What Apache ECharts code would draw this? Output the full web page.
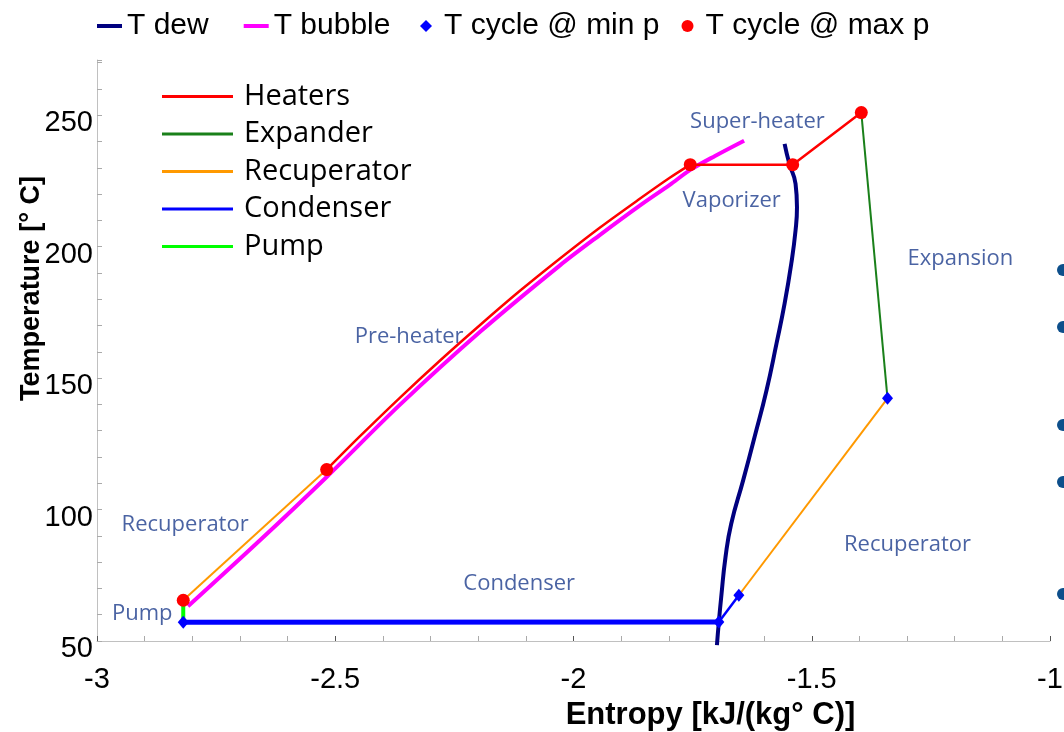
<!DOCTYPE html>
<html>

<head>
    <meta charset="utf-8">
    <title>T-s diagram</title>
    <script src="https://cdn.jsdelivr.net/npm/echarts@6.0.0/dist/echarts.min.js"></script>
    <style>
        html, body { margin: 0; padding: 0; background: #fff; }
    </style>
</head>

<body>
    <div id="main" style="width: 1064px;height: 732px;"></div>

    <script type="text/javascript">
        // saturation curves [entropy, temperature]
        var dewCurve = [
            [-1.699, 48.4], [-1.695, 57.2], [-1.690, 66.7], [-1.681, 81.9], [-1.669, 94.6],
            [-1.644, 111.1], [-1.620, 127.6], [-1.595, 145.3], [-1.574, 163.1], [-1.557, 178.3],
            [-1.543, 193.5], [-1.534, 206.2], [-1.531, 215.0], [-1.534, 223.9], [-1.547, 231.5],
            [-1.557, 239.1]
        ];
        var bubbleCurve = [
            [-2.809, 63.2], [-2.658, 88.3], [-2.518, 112.4], [-2.364, 139.9], [-2.196, 167.6],
            [-2.029, 192.8], [-1.945, 204.4], [-1.861, 215.6], [-1.798, 223.5], [-1.755, 229.2],
            [-1.703, 234.5], [-1.642, 240.3]
        ];

        // cycle state points
        var cycleMinP = [[-2.819, 57.1], [-1.695, 57.2], [-1.653, 67.4], [-1.341, 142.3]];
        var cycleMaxP = [[-2.819, 65.5], [-2.518, 115.2], [-1.755, 231.2], [-1.540, 231.2], [-1.396, 251.0]];

        // cycle segments
        var heatersPre = [
            [-2.518, 115.2], [-2.448, 127.9], [-2.364, 142.6], [-2.280, 156.7], [-2.196, 170.2],
            [-2.113, 183.1], [-2.029, 195.4], [-1.945, 207.2], [-1.861, 218.2], [-1.798, 226.2],
            [-1.755, 231.2]
        ];
        var heatersVap = [[-1.755, 231.2], [-1.540, 231.2], [-1.396, 251.0]];
        var expander = [[-1.396, 251.0], [-1.341, 142.3]];
        var recupHot = [[-2.819, 65.5], [-2.518, 115.2]];
        var recupCold = [[-1.341, 142.3], [-1.653, 67.4]];
        var condenserDesup = [[-1.653, 67.4], [-1.695, 57.2]];
        var condenserMain = [[-1.695, 57.2], [-2.819, 57.1]];
        var pump = [[-2.819, 57.1], [-2.819, 65.5]];

        // region labels
        var annoNames = ['Super-heater', 'Vaporizer', 'Expansion', 'Pre-heater', 'Recuperator', 'Condenser', 'Pump', 'Recuperator'];
        var annoS = [-1.614, -1.668, -1.188, -2.345, -2.815, -2.114, -2.905, -1.299];
        var annoT = [247.6, 217.6, 195.5, 165.9, 94.4, 71.9, 60.5, 86.8];

        var xTicks = { min: -3, max: -1, interval: 0.5 };
        var yTicks = { min: 50, max: 271, interval: 50 };

        var annoData = annoNames.map(function (n, i) {
            return { name: n, value: [annoS[i], annoT[i]] };
        });

        var myChart = echarts.init(document.getElementById('main'));

        function lineSeries(name, data, color, width, extra) {
            var s = {
                name: name,
                type: 'line',
                data: data,
                showSymbol: false,
                symbol: 'none',
                color: color,
                lineStyle: { color: color, width: width },
                animation: false
            };
            for (var k in extra) s[k] = extra[k];
            return s;
        }

        var arialFont = 'Liberation Sans, Arial, sans-serif';
        var topText = { fontSize: 30, fontFamily: arialFont, color: '#000' };
        var option = {
            backgroundColor: '#fff',
            animation: false,
            grid: { left: 97, right: 14, top: 60, bottom: 91, containLabel: false, outerBoundsMode: 'none' },
            legend: [{
                data: [{ name: 'T dew', icon: 'rect' }, { name: 'T bubble', icon: 'rect' }],
                left: 97, top: 11, padding: 0,
                itemWidth: 25, itemHeight: 4, itemGap: 35,
                selectedMode: false,
                textStyle: topText
            }, {
                data: [{ name: 'T cycle @ min p', icon: 'diamond' }, { name: 'T cycle @ max p', icon: 'circle' }],
                left: 420, top: 11, padding: 0,
                itemWidth: 12, itemHeight: 12, itemGap: 22,
                selectedMode: false,
                textStyle: { fontSize: 30, fontFamily: arialFont, color: '#000', padding: [0, 0, 0, 7] }
            }, {
                data: ['Heaters', 'Expander', 'Recuperator', 'Condenser', 'Pump'].map(function (n) {
                    return { name: n, icon: 'rect' };
                }),
                orient: 'vertical',
                left: 162, top: 82, padding: 0,
                itemWidth: 71, itemHeight: 3, itemGap: 8.5,
                selectedMode: false,
                textStyle: { fontSize: 29, fontFamily: 'Open Sans, sans-serif', color: '#000', padding: [0, 0, 0, 6] }
            }],
            xAxis: {
                type: 'value',
                min: xTicks.min, max: xTicks.max, interval: xTicks.interval,
                name: 'Entropy [kJ/(kg° C)]',
                nameLocation: 'middle',
                nameGap: 59,
                nameMoveOverlap: false,
                nameTextStyle: { fontSize: 31, fontWeight: 'bold', fontFamily: arialFont, color: '#000', padding: [0, 0, 0, 274] },
                axisLine: { show: true, lineStyle: { color: '#c0c0c0', width: 1 } },
                axisTick: { show: true, inside: true, length: 5, lineStyle: { color: '#555' } },
                minorTick: { show: true, splitNumber: 5, length: 5, lineStyle: { color: '#aaa' } },
                axisLabel: { fontSize: 29, fontFamily: arialFont, color: '#000', margin: 24 },
                splitLine: { show: false },
                minorSplitLine: { show: false }
            },
            yAxis: {
                type: 'value',
                min: yTicks.min, max: yTicks.max, interval: yTicks.interval,
                name: 'Temperature [° C]',
                nameLocation: 'middle',
                nameGap: 52,
                nameMoveOverlap: false,
                nameTextStyle: { fontSize: 27, fontWeight: 'bold', fontFamily: arialFont, color: '#000', padding: [0, 0, 0, 124] },
                axisLine: { show: true, lineStyle: { color: '#c0c0c0', width: 1 } },
                axisTick: { show: true, inside: true, length: 5, lineStyle: { color: '#aaa' } },
                minorTick: { show: true, splitNumber: 5, length: 5, lineStyle: { color: '#aaa' } },
                axisLabel: {
                    fontSize: 29, fontFamily: arialFont, color: '#000', margin: 4,
                    showMaxLabel: false, verticalAlign: 'top', lineHeight: 16
                },
                splitLine: { show: false },
                minorSplitLine: { show: false }
            },
            series: [
                lineSeries('T bubble', bubbleCurve, '#ff00ff', 4, { smooth: 0.3 }),
                lineSeries('T dew', dewCurve, '#00007f', 4, { smooth: true, clip: false }),
                lineSeries('Recuperator', recupHot, '#ff9900', 2),
                lineSeries('Recuperator', recupCold, '#ff9900', 2),
                lineSeries('Heaters', heatersPre, '#ff0000', 2.5, { smooth: 0.3 }),
                lineSeries('Heaters', heatersVap, '#ff0000', 2.5),
                lineSeries('Expander', expander, '#1a801a', 2),
                lineSeries('Condenser', condenserMain, '#0000ff', 5),
                lineSeries('Condenser', condenserDesup, '#0000ff', 2.5),
                lineSeries('Pump', pump, '#00ff00', 4),
                {
                    name: 'T cycle @ min p',
                    type: 'scatter',
                    symbol: 'diamond',
                    symbolSize: [11, 13],
                    color: '#0000ff',
                    itemStyle: { color: '#0000ff', opacity: 1 },
                    data: cycleMinP,
                    z: 5
                }, {
                    name: 'T cycle @ max p',
                    type: 'scatter',
                    symbol: 'circle',
                    symbolSize: 13,
                    color: '#ff0000',
                    itemStyle: { color: '#ff0000', opacity: 1 },
                    data: cycleMaxP,
                    z: 5
                }, {
                    name: 'labels',
                    type: 'scatter',
                    symbolSize: 1,
                    silent: true,
                    itemStyle: { color: 'rgba(0,0,0,0)' },
                    label: {
                        show: true,
                        position: 'inside',
                        formatter: '{b}',
                        fontSize: 22,
                        fontFamily: 'Open Sans, sans-serif',
                        color: '#1d3c8c'
                    },
                    data: annoData
                }
            ],
            // slide bullets peeking in on the right edge
            graphic: [270, 327, 425, 482, 594].map(function (y) {
                return { type: 'circle', shape: { cx: 1063, cy: y, r: 6 }, style: { fill: '#0d4f8b' }, silent: true };
            })
        };

        myChart.setOption(option);
    </script>
</body>

</html>
